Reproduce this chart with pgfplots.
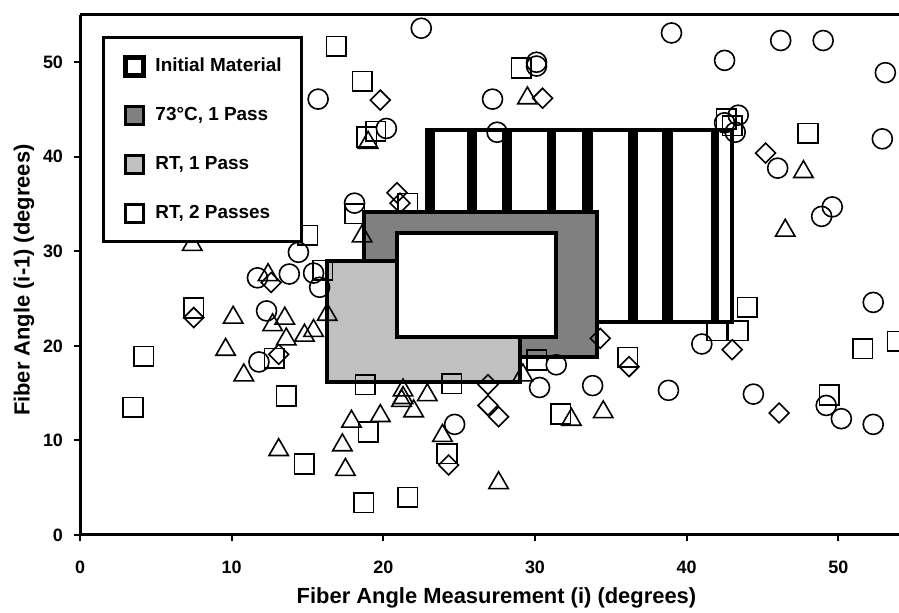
\documentclass[border=0pt]{standalone}
\usepackage{fontspec}
\setmainfont{Liberation Sans}
\usepackage{pgfplots}
\pgfplotsset{compat=1.18}
\definecolor{darkbox}{RGB}{128,128,128}
\definecolor{lightbox}{RGB}{192,192,192}

\begin{document}
\begin{tikzpicture}
\begin{axis}[
  scale only axis,
  width=409.5bp, height=260bp,
  xmin=0, xmax=54, ymin=0, ymax=55,
  xtick={0,10,...,50}, ytick={0,10,...,50},
  axis x line=box, axis y line=left,
  axis line style={-, line width=1.5bp, black},
  xtick pos=left, ytick pos=left,
  tick align=outside,
  major tick length=3bp,
  tick style={line width=1bp, black},
  /pgf/number format/assume math mode=true,
  every tick label/.append style={font=\bfseries\fontsize{9}{10}\selectfont},
  xticklabel style={yshift=-6.5bp},
  yticklabel style={xshift=-2bp},
  xlabel={Fiber Angle Measurement (i) (degrees)},
  ylabel={Fiber Angle (i-1) (degrees)},
  xlabel style={font=\bfseries\fontsize{11}{13}\selectfont, at={(axis description cs:0.5085,-0.121)}, anchor=center},
  ylabel style={font=\bfseries\fontsize{11}{13}\selectfont, at={(axis description cs:-0.0684,0.49)}, anchor=center},
  legend style={at={(axis cs:1.45,52.75)}, anchor=north west, draw=black, line width=1.5bp,
    font=\bfseries\fontsize{9.5}{11}\selectfont, inner xsep=10bp, inner ysep=2bp,
    row sep=0bp, column sep=4.5bp, nodes={inner sep=0pt, minimum height=24.5bp}},
  legend cell align=left,
]

% squares
\addplot[only marks, mark=square, mark size=4.9bp, black, line width=0.8bp, forget plot] table {
x y
16.9 51.7
18.6 48.0
29.1 49.4
18.9 42.1
19.5 42.7
21.6 35.1
18.1 34.0
15.0 31.7
16.0 28.0
42.6 44.0
43.0 43.3
48.0 42.5
44.0 24.1
43.4 21.6
42.0 21.6
51.6 19.7
53.9 20.5
49.4 14.8
36.1 18.8
30.1 18.5
31.7 12.8
24.2 8.6
21.6 4.0
18.7 3.4
19.0 10.9
24.5 16.0
18.8 15.9
7.5 24.0
4.2 18.9
3.5 13.5
12.8 18.7
13.6 14.7
14.8 7.5
};

% circles
\addplot[only marks, mark=o, mark size=5bp, black, line width=0.8bp, forget plot] table {
x y
22.5 53.6
39.0 53.1
46.2 52.3
49.0 52.3
42.5 50.2
53.1 48.9
30.1 49.6
30.1 50.0
15.7 46.1
27.2 46.1
20.2 43.0
27.5 42.6
43.4 44.4
42.5 43.6
43.2 42.6
52.9 41.9
46.0 38.8
49.6 34.7
48.9 33.7
18.1 35.1
14.4 29.9
11.7 27.2
13.8 27.6
15.4 27.7
15.8 26.2
12.3 23.7
11.8 18.3
52.3 24.6
41.0 20.2
38.8 15.3
44.4 14.9
49.2 13.7
50.2 12.3
52.3 11.7
31.4 18.0
30.3 15.6
33.8 15.8
24.7 11.7
};

% diamonds
\addplot[only marks, mark=square, mark options={rotate=45}, mark size=3.5bp, black, line width=0.8bp, forget plot] table {
x y
19.8 46.0
30.5 46.2
20.9 36.2
21.1 35.1
45.2 40.4
43.0 19.6
46.1 12.9
36.2 17.8
34.3 20.8
26.9 13.7
27.6 12.5
24.3 7.4
7.5 23.0
13.1 19.1
12.6 26.7
26.9 15.9
};

% triangles
\addplot[only marks, mark=triangle, mark size=5.6bp, black, line width=0.8bp, forget plot] table {
x y
29.5 46.2
19.0 41.5
7.4 30.7
18.6 31.6
47.7 38.4
46.5 32.2
10.1 23.0
9.6 19.6
10.8 16.9
12.4 27.5
12.7 22.2
13.5 22.9
13.6 20.7
14.8 21.1
15.4 21.6
16.3 23.3
13.1 9.0
17.9 12.0
17.3 9.5
17.5 6.9
19.8 12.6
21.2 14.2
21.3 14.5
22.0 13.1
22.9 14.8
21.3 15.3
23.9 10.5
27.6 5.5
29.2 16.9
32.4 12.2
34.5 13.0
};

% Initial material box with stripes
\addplot[fill=white, draw=black, line width=2bp,
  legend image code/.code={\draw[fill=white, line width=2.5bp] (0bp,-4.5bp) rectangle (9bp,4.5bp);}]
  coordinates {(22.9,22.5) (43.0,22.5) (43.0,42.8) (22.9,42.8)} -- cycle;
\addlegendentry{Initial Material}
\addplot[fill=black, draw=none, forget plot] coordinates {(22.9,22.5) (23.4,22.5) (23.4,42.8) (22.9,42.8)} -- cycle;
\addplot[fill=black, draw=none, forget plot] coordinates {(25.5,22.5) (26.2,22.5) (26.2,42.8) (25.5,42.8)} -- cycle;
\addplot[fill=black, draw=none, forget plot] coordinates {(27.8,22.5) (28.5,22.5) (28.5,42.8) (27.8,42.8)} -- cycle;
\addplot[fill=black, draw=none, forget plot] coordinates {(30.8,22.5) (31.4,22.5) (31.4,42.8) (30.8,42.8)} -- cycle;
\addplot[fill=black, draw=none, forget plot] coordinates {(33.1,22.5) (33.8,22.5) (33.8,42.8) (33.1,42.8)} -- cycle;
\addplot[fill=black, draw=none, forget plot] coordinates {(36.1,22.5) (36.8,22.5) (36.8,42.8) (36.1,42.8)} -- cycle;
\addplot[fill=black, draw=none, forget plot] coordinates {(38.4,22.5) (39.1,22.5) (39.1,42.8) (38.4,42.8)} -- cycle;
\addplot[fill=black, draw=none, forget plot] coordinates {(41.6,22.5) (42.1,22.5) (42.1,42.8) (41.6,42.8)} -- cycle;

% 73 C, 1 pass
\addplot[fill=darkbox, draw=black, line width=2bp,
  legend image code/.code={\draw[fill=darkbox, line width=1.5bp] (0bp,-4.5bp) rectangle (9bp,4.5bp);}]
  coordinates {(18.7,18.8) (34.1,18.8) (34.1,34.2) (18.7,34.2)} -- cycle;
\addlegendentry{73°C, 1 Pass}

% RT, 1 pass
\addplot[fill=lightbox, draw=black, line width=2bp,
  legend image code/.code={\draw[fill=lightbox, line width=1.5bp] (0bp,-4.5bp) rectangle (9bp,4.5bp);}]
  coordinates {(16.3,16.2) (29.0,16.2) (29.0,29.0) (16.3,29.0)} -- cycle;
\addlegendentry{RT, 1 Pass}

% RT, 2 passes
\addplot[fill=white, draw=black, line width=2bp,
  legend image code/.code={\draw[fill=white, line width=1.5bp] (0bp,-4.5bp) rectangle (9bp,4.5bp);}]
  coordinates {(20.9,20.9) (31.4,20.9) (31.4,31.9) (20.9,31.9)} -- cycle;
\addlegendentry{RT, 2 Passes}

\end{axis}
\pgfresetboundingbox
\path ([shift={(-40bp,-39bp)}]current axis.south west) rectangle ([shift={(0bp,7.5bp)}]current axis.north east);
\end{tikzpicture}
\end{document}
